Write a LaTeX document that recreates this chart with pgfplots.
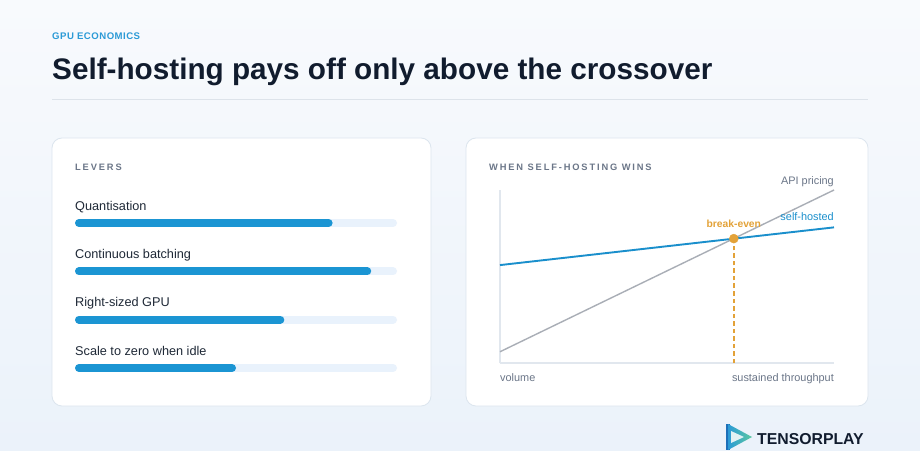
\documentclass[border=0pt]{standalone}
\usepackage{fontspec}
\setmainfont{Liberation Sans}
\usepackage{pgfplots}
\pgfplotsset{compat=1.18}
\definecolor{bgtop}{HTML}{F8FAFD}
\definecolor{bgbot}{HTML}{EBF2FA}
\definecolor{accent}{HTML}{2B9AD6}
\definecolor{navy}{HTML}{111C2E}
\definecolor{textc}{HTML}{1F2937}
\definecolor{grayc}{HTML}{6B7688}
\definecolor{rulec}{HTML}{DDE3EA}
\definecolor{cardb}{HTML}{DCE5EE}
\definecolor{barc}{HTML}{1B95D3}
\definecolor{trackc}{HTML}{E9F2FC}
\definecolor{axisc}{HTML}{E1E7EE}
\definecolor{apic}{HTML}{A9AEB6}
\definecolor{selfc}{HTML}{1A8FCC}
\definecolor{orangec}{HTML}{E3A238}
\definecolor{logoblue}{HTML}{1D6FB8}
\definecolor{logogreen}{HTML}{5CC9A0}
\begin{document}
\begin{tikzpicture}[x=1pt,y=1pt,
  track/.style={draw=trackc,line width=8pt,line cap=round,shorten <=4pt,shorten >=4pt},
  bar/.style={draw=barc,line width=8pt,line cap=round,shorten <=4pt,shorten >=4pt},
  lab/.style={anchor=base west,inner sep=0pt,text=textc,font=\fontsize{12.7}{15}\selectfont,yshift=13pt},
  small/.style={inner sep=0pt,font=\fontsize{10.9}{13}\selectfont}]
\useasboundingbox (0,0) rectangle (920,450);
\shade[top color=bgtop,bottom color=bgbot] (0,0) rectangle (920,450);
\coordinate (LA) at (75,82);
\coordinate (RA) at (500,87);
% header
\node[anchor=base west,inner sep=0pt,text=accent,font=\fontsize{9.6}{11}\selectfont\bfseries\addfontfeatures{LetterSpace=5}] at (52,410.7) {GPU ECONOMICS};
\node[anchor=base west,inner sep=0pt,text=navy,font=\fontsize{29.7}{34}\selectfont\bfseries] at (52,370.7) {Self-hosting pays off only above the crossover};
\draw[rulec,line width=1pt] (52,350) -- (868,350);
% cards
\draw[cardb,fill=white,line width=0.8pt,rounded corners=10pt] (52,44) rectangle (431,312);
\draw[cardb,fill=white,line width=0.8pt,rounded corners=10pt] (466,44) rectangle (868,312);
\node[anchor=base west,inner sep=0pt,text=grayc,font=\fontsize{9.3}{11}\selectfont\bfseries\addfontfeatures{LetterSpace=20}] at (75,279.2) {LEVERS};
\node[anchor=base west,inner sep=0pt,text=grayc,font=\fontsize{9.3}{11}\selectfont\bfseries\addfontfeatures{LetterSpace=20}] at (489,279) {WHEN SELF-HOSTING WINS};
% levers
\begin{axis}[at={(LA)},anchor=south west,scale only axis,width=322pt,height=145pt,
  xmin=0,xmax=100,ymin=1,ymax=4,hide axis,clip=false]
\addplot[track] coordinates {(0,4) (100,4)};
\addplot[track] coordinates {(0,3) (100,3)};
\addplot[track] coordinates {(0,2) (100,2)};
\addplot[track] coordinates {(0,1) (100,1)};
\addplot[bar] coordinates {(0,4) (80,4)};
\addplot[bar] coordinates {(0,3) (92,3)};
\addplot[bar] coordinates {(0,2) (65,2)};
\addplot[bar] coordinates {(0,1) (50,1)};
\node[lab] at (axis cs:0,4) {Quantisation};
\node[lab] at (axis cs:0,3) {Continuous batching};
\node[lab] at (axis cs:0,2) {Right-sized GPU};
\node[lab] at (axis cs:0,1) {Scale to zero when idle};
\end{axis}
% crossover chart
\begin{axis}[at={(RA)},anchor=south west,scale only axis,width=334pt,height=173pt,
  xmin=0,xmax=10,ymin=0,ymax=10,axis lines=left,
  axis line style={-,draw=axisc,line width=1.3pt},xtick=\empty,ytick=\empty,clip=false]
\addplot[draw=orangec,color=orangec,line width=1.5pt,dash pattern=on 4.5pt off 3pt] coordinates {(7,0) (7,7.19)};
\addplot[draw=apic,line width=1.4pt] coordinates {(0,0.65) (10,10)};
\addplot[draw=selfc,line width=1.9pt] coordinates {(0,5.66) (10,7.84)};
\addplot[only marks,mark=*,mark size=4.5pt,color=orangec] coordinates {(7,7.19)};
\node[small,anchor=base east,text=grayc] at (axis cs:10,10.29) {API pricing};
\node[small,anchor=base east,text=selfc] at (axis cs:10,8.21) {self-hosted};
\node[small,anchor=base,text=orangec,font=\fontsize{10.3}{12}\selectfont\bfseries] at (axis cs:7,7.86) {break-even};
\node[small,anchor=base west,text=grayc] at (axis cs:0,-1.07) {volume};
\node[small,anchor=base east,text=grayc] at (axis cs:10,-1.07) {sustained throughput};
\end{axis}
% logo
\fill[logoblue] (726,0) rectangle (730,26);
\shade[left color=accent,right color=logogreen] (728,26) -- (752,13) -- (728,0) -- cycle;
\fill[white!70!logogreen!30!bgbot] (731,19) -- (744,13) -- (731,7) -- cycle;
\node[anchor=base west,inner sep=0pt,text=navy,font=\fontsize{15.8}{18}\selectfont\bfseries] at (757,5.5) {TENSORPLAY};
\end{tikzpicture}
\end{document}
